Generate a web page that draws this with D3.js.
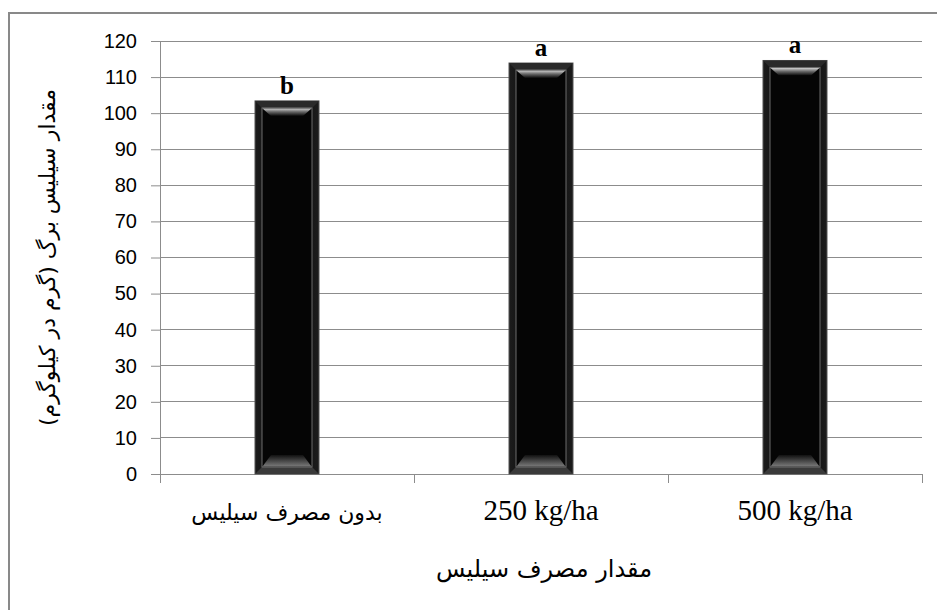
<!DOCTYPE html>
<html><head><meta charset="utf-8">
<script src="https://cdn.jsdelivr.net/npm/d3@7"></script>
<style>html,body{margin:0;padding:0;background:#fff;}svg{display:block;}</style>
</head><body>
<svg id="c" width="937" height="610"></svg>
<script>
const categories = ["بدون مصرف سیلیس", "250 kg/ha", "500 kg/ha"];
const values = [103.4, 113.9, 114.6];
const letters = ["b", "a", "a"];
const yTicks = [0,10,20,30,40,50,60,70,80,90,100,110,120];
const yTitle = "مقدار سیلیس برگ (گرم در کیلوگرم)";
const xTitle = "مقدار مصرف سیلیس";

const svg = d3.select("#c");
const L = 160, R = 922, T = 41, B = 474;
const x = d3.scaleBand().domain(categories).range([L, R]).padding(0);
const y = d3.scaleLinear().domain([0, 120]).range([B, T]);
const isLatin = s => /^[\x00-\x7F]*$/.test(s);

// frame
svg.append("rect").attr("x", 9).attr("y", 13).attr("width", 1000).attr("height", 1000)
  .attr("fill", "none").attr("stroke", "#898989").attr("stroke-width", 2);

// gridlines
svg.append("g").selectAll("line").data(yTicks.filter(d => d > 0)).join("line")
  .attr("x1", L).attr("x2", R).attr("y1", d => y(d)).attr("y2", d => y(d))
  .attr("stroke", "#8c8c8c").attr("stroke-width", 1).attr("shape-rendering", "crispEdges");

// y axis
const yAxis = d3.axisLeft(y).tickValues(yTicks).tickSize(9).tickPadding(14);
const gy = svg.append("g").attr("transform", `translate(${L},0)`).call(yAxis);
gy.select(".domain").attr("stroke", "#8c8c8c");
gy.selectAll(".tick line").attr("stroke", "#8c8c8c");
gy.selectAll(".tick text").attr("font-family", "Liberation Sans, Arial, sans-serif")
  .attr("font-size", 20).attr("fill", "#000");

// x axis
const gx = svg.append("g").attr("transform", `translate(0,${B})`);
gx.append("line").attr("x1", L).attr("x2", R).attr("y1", 0).attr("y2", 0)
  .attr("stroke", "#8c8c8c").attr("shape-rendering", "crispEdges");
const bounds = categories.map(c => x(c)).concat([x(categories[categories.length-1]) + x.bandwidth()]);
gx.selectAll("line.tk").data(bounds).join("line").attr("class", "tk")
  .attr("x1", d => d).attr("x2", d => d).attr("y1", 0).attr("y2", 9)
  .attr("stroke", "#8c8c8c").attr("shape-rendering", "crispEdges");
gx.selectAll("text").data(categories).join("text")
  .attr("x", d => x(d) + x.bandwidth()/2).attr("y", 46)
  .attr("text-anchor", "middle")
  .attr("font-family", d => isLatin(d) ? "Liberation Serif, serif" : "DejaVu Sans, sans-serif")
  .attr("font-size", d => isLatin(d) ? 29 : 22)
  .attr("fill", "#000").text(d => d);

// gradients
const defs = svg.append("defs");
const gt = defs.append("linearGradient").attr("id", "gTop").attr("x1", 0).attr("y1", 0).attr("x2", 0).attr("y2", 1);
gt.append("stop").attr("offset", "0%").attr("stop-color", "#d0d0d0");
gt.append("stop").attr("offset", "45%").attr("stop-color", "#6a6a6a");
gt.append("stop").attr("offset", "100%").attr("stop-color", "#0a0a0a");
const gb = defs.append("linearGradient").attr("id", "gBot").attr("x1", 0).attr("y1", 0).attr("x2", 0).attr("y2", 1);
gb.append("stop").attr("offset", "0%").attr("stop-color", "#111");
gb.append("stop").attr("offset", "100%").attr("stop-color", "#7a7a7a");
const go = defs.append("linearGradient").attr("id", "gOut").attr("x1", 0).attr("y1", 0).attr("x2", 1).attr("y2", 0);
go.append("stop").attr("offset", "0%").attr("stop-color", "#1c1c1c");
go.append("stop").attr("offset", "50%").attr("stop-color", "#060606");
go.append("stop").attr("offset", "100%").attr("stop-color", "#1c1c1c");

// bars
const bw = x.bandwidth() * 0.252;
const bars = svg.append("g").selectAll("g").data(categories.map((c, i) => ({c, v: values[i], l: letters[i]}))).join("g");
bars.each(function(d) {
  const g = d3.select(this);
  const bx = x(d.c) + x.bandwidth()/2 - bw/2, by = y(d.v), bh = y(0) - y(d.v);
  g.append("rect").attr("x", bx).attr("y", by).attr("width", bw).attr("height", bh)
    .attr("fill", "url(#gOut)").attr("stroke", "#555").attr("stroke-width", 1);
  g.append("path").attr("d", `M${bx},${by}L${bx+bw},${by}L${bx+bw-7},${by+7}L${bx+7},${by+7}Z`).attr("fill", "#2a2a2a");
  g.append("path").attr("d", `M${bx},${by+bh}L${bx+bw},${by+bh}L${bx+bw-7},${by+bh-7}L${bx+7},${by+bh-7}Z`).attr("fill", "#3a3a3a");
  const ix = bx + 7, iy = by + 7, iw = bw - 14, ih = bh - 14;
  g.append("rect").attr("x", ix).attr("y", iy).attr("width", iw).attr("height", ih)
    .attr("fill", "#050505").attr("stroke", "#6e6e6e").attr("stroke-width", 1);
  g.append("path").attr("d", `M${ix+0.5},${iy+0.5}L${ix+iw-0.5},${iy+0.5}L${ix+iw-9},${iy+8}L${ix+9},${iy+8}Z`).attr("fill", "url(#gTop)");
  g.append("path").attr("d", `M${ix+9},${iy+ih-12}L${ix+iw-9},${iy+ih-12}L${ix+iw-0.5},${iy+ih-0.5}L${ix+0.5},${iy+ih-0.5}Z`).attr("fill", "url(#gBot)");
  g.append("text").attr("x", bx + bw/2).attr("y", by - 7).attr("text-anchor", "middle")
    .attr("font-family", "Liberation Serif, Times New Roman, serif").attr("font-weight", "bold")
    .attr("font-size", 25).attr("fill", "#000").text(d.l);
});

// axis titles
svg.append("text").attr("x", (L + R) / 2 + 3).attr("y", 577).attr("text-anchor", "middle")
  .attr("font-family", "DejaVu Sans, sans-serif").attr("font-size", 24).attr("fill", "#000")
  .text(xTitle);
svg.append("text").attr("transform", `translate(55,${(T + B) / 2}) rotate(-90)`).attr("text-anchor", "middle")
  .attr("font-family", "DejaVu Sans, sans-serif").attr("font-size", 22).attr("fill", "#000")
  .text(yTitle);
</script>
</body></html>
